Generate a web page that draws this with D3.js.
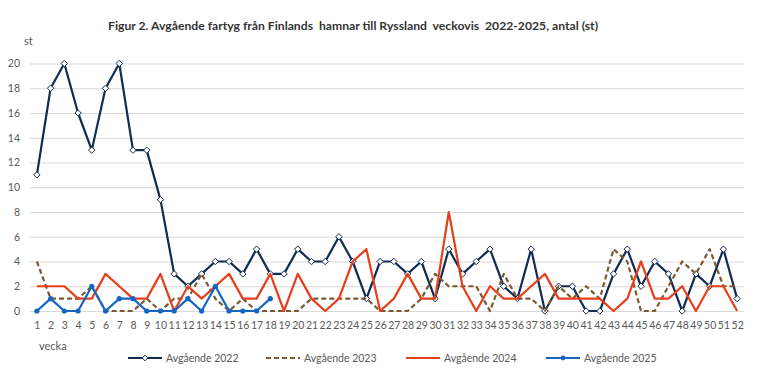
<!DOCTYPE html>
<html>
<head>
<meta charset="utf-8">
<script src="https://cdn.jsdelivr.net/npm/d3@7"></script>
<style>
  body { margin: 0; background: #fff; }
  svg { font-family: Lato, "Open Sans", sans-serif; }
</style>
</head>
<body>
<div id="chart"></div>
<script>
// weekly departures
var weeks = d3.range(1, 53);
var yTicks = [0, 2, 4, 6, 8, 10, 12, 14, 16, 18, 20];

var v2022 = [11,18,20,16,13,18,20,13,13,9, 3,2,3,4,4,3,5,3,3,5, 4,4,6,4,1,4,4,3,4,1,
             5,3,4,5,2,1,5,0,2,2, 0,0,3,5,2,4,3,0,3,2, 5,1];
var v2023 = [4,1,1,1,2,0,0,0,1,0, 1,1,3,1,0,1,0,0,0,0, 1,1,1,1,1,0,0,0,1,3,
             2,2,2,0,3,1,1,0,2,1, 2,1,5,4,0,0,2,4,3,5, 2,2];
var v2024 = [2,2,2,1,1,3,2,1,1,3, 0,2,1,2,3,1,1,3,0,3, 1,0,1,4,5,0,1,3,1,1,
             8,2,0,2,1,1,2,3,1,1, 1,1,0,1,4,1,1,2,0,2, 2,0];
var v2025 = [0,1,0,0,2,0,1,1,0,0, 0,1,0,2,0,0,0,1];

var seriesNames = ["Avgående 2022", "Avgående 2023", "Avgående 2024", "Avgående 2025"];

var width = 757, height = 378;
var margin = { top: 63.5, right: 13, bottom: 67, left: 30 };

var svg = d3.select("#chart").append("svg")
  .attr("width", width)
  .attr("height", height);

var x = d3.scalePoint()
  .domain(weeks)
  .range([margin.left, width - margin.right])
  .padding(0.5);

var y = d3.scaleLinear()
  .domain([0, 20])
  .range([height - margin.bottom, margin.top]);

// title
svg.append("text")
  .attr("x", 108)
  .attr("y", 30)
  .attr("font-size", "10.5px")
  .attr("font-weight", "bold")
  .attr("fill", "#333")
  .attr("textLength", 490)
  .attr("lengthAdjust", "spacingAndGlyphs")
  .style("white-space", "pre")
  .text("Figur 2. Avgående fartyg från Finlands  hamnar till Ryssland  veckovis  2022-2025, antal (st)");

svg.append("text")
  .attr("x", 24)
  .attr("y", 44.5)
  .attr("font-size", "11px")
  .attr("fill", "#595959")
  .text("st");

// y axis with gridlines
svg.append("g")
  .attr("transform", `translate(${margin.left},0)`)
  .call(d3.axisLeft(y).tickValues(yTicks).tickSize(-(width - margin.left - margin.right)).tickPadding(10))
  .call(g => g.select(".domain").remove())
  .call(g => g.selectAll(".tick line").attr("stroke", "#d9d9d9"))
  .call(g => g.selectAll(".tick text").attr("fill", "#595959").attr("font-size", "10.5px").attr("font-family", "Lato"));

// x axis, week numbers only
svg.append("g")
  .attr("transform", `translate(0,${y(0)})`)
  .call(d3.axisBottom(x).tickSize(0).tickPadding(11))
  .call(g => g.select(".domain").remove())
  .call(g => g.selectAll(".tick text").attr("fill", "#595959").attr("font-size", "10.5px").attr("font-family", "Lato"));

svg.append("text")
  .attr("x", 39)
  .attr("y", 350)
  .attr("font-size", "11px")
  .attr("fill", "#595959")
  .text("vecka");

var line = d3.line()
  .x((d, i) => x(weeks[i]))
  .y(d => y(d));

var styles = [
  { color: "#0f2c52", dash: null },
  { color: "#7b5a33", dash: "5,3" },
  { color: "#e5401b", dash: null },
  { color: "#1566c2", dash: null }
];
var allSeries = [v2022, v2023, v2024, v2025];

allSeries.forEach(function(vals, s) {
  svg.append("path")
    .datum(vals)
    .attr("fill", "none")
    .attr("stroke", styles[s].color)
    .attr("stroke-width", 2.2)
    .attr("stroke-dasharray", styles[s].dash)
    .attr("stroke-linejoin", "round")
    .attr("d", line);

  if (s === 0) {
    svg.append("g").selectAll("path")
      .data(vals)
      .join("path")
      .attr("transform", (d, i) => `translate(${x(weeks[i])},${y(d)})`)
      .attr("d", d3.symbol(d3.symbolDiamond2, 26))
      .attr("fill", "#fff")
      .attr("stroke", styles[0].color)
      .attr("stroke-width", 1);
  }
  if (s === 3) {
    svg.append("g").selectAll("circle")
      .data(vals)
      .join("circle")
      .attr("cx", (d, i) => x(weeks[i]))
      .attr("cy", d => y(d))
      .attr("r", 2.6)
      .attr("fill", styles[3].color);
  }
});

// legend
var legX = [128, 266, 406, 546];
var legY = 358;
var leg = svg.append("g");
seriesNames.forEach(function(name, s) {
  leg.append("line")
    .attr("x1", legX[s]).attr("x2", legX[s] + 34)
    .attr("y1", legY).attr("y2", legY)
    .attr("stroke", styles[s].color)
    .attr("stroke-width", 2.2)
    .attr("stroke-dasharray", styles[s].dash);
  if (s === 0) {
    leg.append("path")
      .attr("transform", `translate(${legX[s] + 17},${legY})`)
      .attr("d", d3.symbol(d3.symbolDiamond2, 20))
      .attr("fill", "#fff")
      .attr("stroke", styles[0].color);
  }
  if (s === 3) {
    leg.append("circle")
      .attr("cx", legX[s] + 17).attr("cy", legY).attr("r", 2.4)
      .attr("fill", styles[3].color);
  }
  leg.append("text")
    .attr("x", legX[s] + 38)
    .attr("y", legY)
    .attr("dy", "0.35em")
    .attr("font-size", "10.5px")
    .attr("fill", "#595959")
    .text(name);
});
</script>
</body>
</html>
